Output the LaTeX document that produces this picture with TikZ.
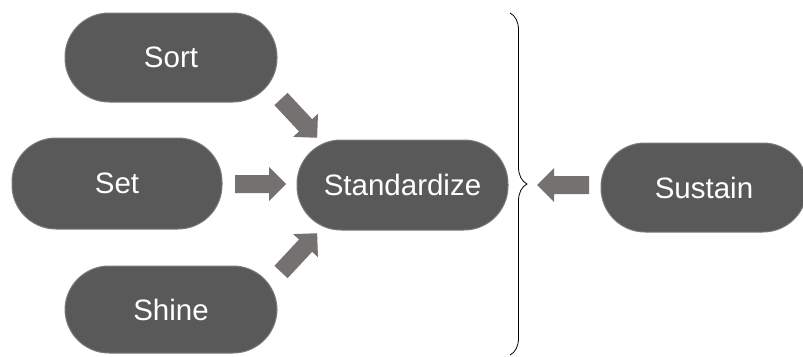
\documentclass[tikz,border=0pt]{standalone}
\usepackage{fontspec}
\setmainfont{Liberation Sans}
\usetikzlibrary{decorations.pathreplacing,calc}
\definecolor{pillfill}{HTML}{595959}
\definecolor{pilledge}{HTML}{7A7A7A}
\definecolor{arrowfill}{HTML}{767171}
\tikzset{
  pill/.style={rectangle, rounded corners=44pt, fill=pillfill, draw=pilledge, line width=1pt,
    text=white, font=\fontsize{29.5}{35}\selectfont, minimum height=89pt, inner sep=0pt},
  blockarrow/.style={fill=arrowfill},
  bracestyle/.style={draw=black, line width=0.8pt, decorate,
    decoration={brace, amplitude=17pt, aspect=0.5}}
}
\newcommand\blockarr[3]{%
  \fill[blockarrow, shift={(#1)}, rotate=#2] (0,-9) -- (#3-17,-9) -- (#3-17,-17) -- (#3,0) -- (#3-17,17) -- (#3-17,9) -- (0,9) -- cycle;}
\begin{document}
\begin{tikzpicture}[x=1pt,y=-1pt]
\useasboundingbox (0,0) rectangle (803,356);
\node[pill, minimum width=212pt] (sort) at (171,57.5) {Sort};
\node[pill, minimum width=210pt, minimum height=91pt] (set) at (117,183.5) {Set};
\node[pill, minimum width=212pt, minimum height=87pt] (shine) at (171,309.5) {Shine};
\node[pill, minimum width=211pt, minimum height=90pt] (std) at (402.5,185) {Standardize};
\node[pill, minimum width=206pt] (sus) at (704,187.5) {Sustain};
\coordinate (btop) at (510,13);
\coordinate (bbot) at (510,355);
\draw[bracestyle] (btop) -- (bbot);
\coordinate (sortT) at (281,99);
\coordinate (setT) at (235,184);
\coordinate (shineT) at (281,272);
\coordinate (susT) at (589,185);
\blockarr{sortT}{-47}{53}
\blockarr{setT}{0}{51}
\blockarr{shineT}{47}{53}
\blockarr{susT}{180}{52}
\end{tikzpicture}
\end{document}
